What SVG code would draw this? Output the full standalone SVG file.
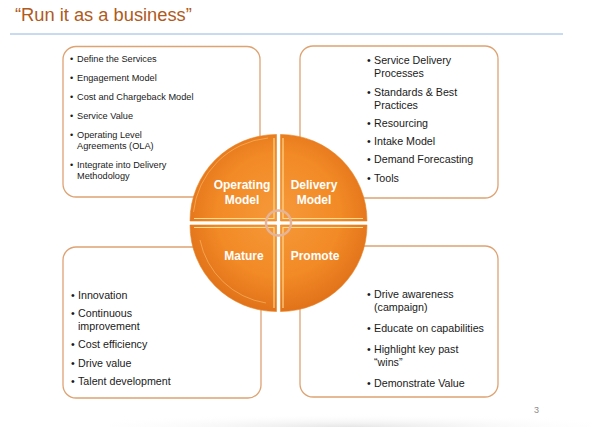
<svg xmlns="http://www.w3.org/2000/svg" width="600" height="427" viewBox="0 0 600 427">
<style>
.box{fill:#ffffff;stroke:#DEA373;stroke-width:1.3}
.t{font-family:"Liberation Sans",Arial,sans-serif;fill:#1a1a1a}
.s9{font-size:9.2px}
.s10{font-size:10.7px}
.q{fill:url(#og);stroke:#E9821F;stroke-width:0.6}
.hl{fill:none;stroke:#FFE6A0;stroke-width:1.1;opacity:0.9}
.hl2{fill:none;stroke:#FFD98A;stroke-width:0.8;opacity:0.55}
.lbl{font-family:"Liberation Sans",Arial,sans-serif;font-weight:bold;font-size:12px;fill:#ffffff;text-anchor:middle}
</style>
<defs>
<radialGradient id="og" gradientUnits="userSpaceOnUse" cx="278.5" cy="215" r="95">
<stop offset="0" stop-color="#F6993A"/>
<stop offset="0.65" stop-color="#F28A26"/>
<stop offset="1" stop-color="#E2731A"/>
</radialGradient>
<radialGradient id="sh" cx="0.5" cy="1" r="0.6">
<stop offset="0" stop-color="#E6E6E6"/>
<stop offset="1" stop-color="#ffffff" stop-opacity="0"/>
</radialGradient>
</defs>
<rect width="600" height="427" fill="#ffffff"/>
<rect x="110" y="405" width="480" height="22" fill="url(#sh)"/>
<text x="15" y="21" style="font-family:'Liberation Sans',Arial,sans-serif;font-size:18.3px;fill:#B05A1C">“Run it as a business”</text>
<line x1="10" y1="34" x2="563" y2="34" stroke="#92B6E2" stroke-width="1"/>
<text x="534" y="413" style="font-family:'Liberation Sans',Arial,sans-serif;font-size:9px;fill:#8C8C8C">3</text>

<g id="box-operating">
<rect class="box" x="63" y="46.5" width="197" height="150.5" rx="13"/>
<g class="t s9">
<text x="70" y="62">•</text><text x="77" y="62">Define the Services</text>
<text x="70" y="81">•</text><text x="77" y="81">Engagement Model</text>
<text x="70" y="100">•</text><text x="77" y="100">Cost and Chargeback Model</text>
<text x="70" y="119">•</text><text x="77" y="119">Service Value</text>
<text x="70" y="138">•</text><text x="77" y="138">Operating Level</text>
<text x="77" y="149">Agreements (OLA)</text>
<text x="70" y="168">•</text><text x="77" y="168">Integrate into Delivery</text>
<text x="77" y="179">Methodology</text>
</g>
</g>

<g id="box-delivery">
<rect class="box" x="300" y="46" width="198" height="152" rx="13"/>
<g class="t s10">
<text x="367" y="64">•</text><text x="374" y="64">Service Delivery</text>
<text x="374" y="77">Processes</text>
<text x="367" y="95.5">•</text><text x="374" y="95.5">Standards &amp; Best</text>
<text x="374" y="109">Practices</text>
<text x="367" y="127">•</text><text x="374" y="127">Resourcing</text>
<text x="367" y="145">•</text><text x="374" y="145">Intake Model</text>
<text x="367" y="163">•</text><text x="374" y="163">Demand Forecasting</text>
<text x="367" y="181.5">•</text><text x="374" y="181.5">Tools</text>
</g>
</g>

<g id="box-mature">
<rect class="box" x="63" y="247" width="198" height="151" rx="13"/>
<g class="t s10">
<text x="71" y="299">•</text><text x="78" y="299">Innovation</text>
<text x="71" y="317">•</text><text x="78" y="317">Continuous</text>
<text x="78" y="330">improvement</text>
<text x="71" y="348">•</text><text x="78" y="348">Cost efficiency</text>
<text x="71" y="366.5">•</text><text x="78" y="366.5">Drive value</text>
<text x="71" y="384.5">•</text><text x="78" y="384.5">Talent development</text>
</g>
</g>

<g id="box-promote">
<rect class="box" x="300" y="246" width="198" height="151" rx="13"/>
<g class="t s10">
<text x="367" y="298">•</text><text x="374" y="298">Drive awareness</text>
<text x="374" y="311">(campaign)</text>
<text x="367" y="332">•</text><text x="374" y="332">Educate on capabilities</text>
<text x="367" y="353">•</text><text x="374" y="353">Highlight key past</text>
<text x="374" y="365.5">“wins”</text>
<text x="367" y="386.5">•</text><text x="374" y="386.5">Demonstrate Value</text>
</g>
</g>

<g id="cycle">
<g id="q-operating">
<path class="q" d="M276.5,221 L190,221 A86.5,86.5 0 0 1 276.5,134.5 Z"/>
<path class="hl" d="M274,138 L274,218.5 L194,218.5"/>
<path class="hl2" d="M193.5,212 A83,83 0 0 1 268,138"/>
<text class="lbl" x="242" y="189">Operating</text>
<text class="lbl" x="242" y="204">Model</text>
</g>
<g id="q-delivery">
<path class="q" d="M280.5,221 L280.5,134.5 A86.5,86.5 0 0 1 367,221 Z"/>
<path class="hl" d="M283,138 L283,218.5 L363,218.5"/>
<text class="lbl" x="314" y="189">Delivery</text>
<text class="lbl" x="314" y="204">Model</text>
</g>
<g id="q-promote">
<path class="q" d="M280.5,225 L367,225 A86.5,86.5 0 0 1 280.5,311.5 Z"/>
<path class="hl" d="M363,227.5 L283,227.5 L283,308"/>
<text class="lbl" x="315" y="260">Promote</text>
</g>
<g id="q-mature">
<path class="q" d="M276.5,225 L276.5,311.5 A86.5,86.5 0 0 1 190,225 Z"/>
<path class="hl" d="M194,227.5 L274,227.5 L274,308"/>
<path class="hl2" d="M200,240 A80,80 0 0 0 266,303"/>
<text class="lbl" x="244" y="260">Mature</text>
</g>
<circle cx="278.5" cy="223" r="12.5" fill="none" stroke="#E3B59A" stroke-width="2.5"/>
</g>
</svg>
